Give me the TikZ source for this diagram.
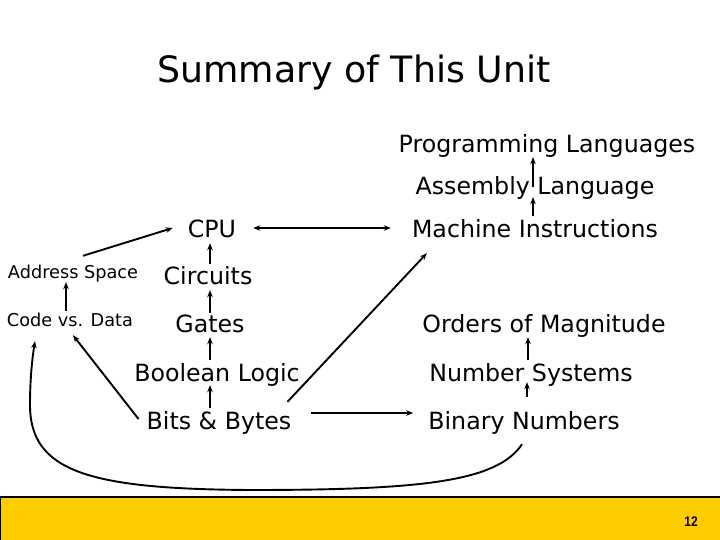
\documentclass[tikz,border=0pt]{standalone}
\usepackage{fontspec}
\setmainfont{DejaVu Sans}
\newfontfamily\numfont{Liberation Sans}
\usetikzlibrary{calc,arrows.meta}
\definecolor{footyellow}{HTML}{FFCC00}
\begin{document}
\begin{tikzpicture}[x=1pt,y=-1pt,
  lbl/.style={anchor=base,inner sep=2pt,text height=17pt,text depth=5pt,font=\fontsize{23.7}{26}\selectfont},
  smalllbl/.style={anchor=base,inner sep=2pt,text height=13pt,text depth=4pt,font=\fontsize{17.7}{20}\selectfont},
  arr/.style={-{Stealth[length=7pt,width=5.5pt]},line width=1.9pt},
  arrtwo/.style={{Stealth[length=7pt,width=5.5pt]}-{Stealth[length=7pt,width=5.5pt]},line width=1.9pt}]
\useasboundingbox (0,0) rectangle (720,540);
\fill[white] (0,0) rectangle (720,540);
% footer
\fill[footyellow] (0,497) rectangle (720,540);
\draw[line width=1.2pt] (0,540) -- (0,497) -- (720,497);
\node[font=\numfont\bfseries\fontsize{14}{16}\selectfont,xscale=0.85] (pg) at (691,522) {12};
% title
\node[anchor=base,font=\fontsize{36.3}{40}\selectfont] (title) at (354,83) {Summary of This Unit};
% nodes
\node[lbl] (PL) at (547,153) {Programming Languages};
\node[lbl] (AL) at (535,195) {Assembly Language};
\node[lbl] (MI) at (535,237) {Machine Instructions};
\node[lbl] (CPU) at (212,237) {CPU};
\node[smalllbl] (AS) at (73,278) {Address Space};
\node[lbl] (CI) at (208,284) {Circuits};
\node[smalllbl] (CD) at (70,326) {Code vs. Data};
\node[lbl] (GA) at (210,332) {Gates};
\node[lbl] (OM) at (544,332) {Orders of Magnitude};
\node[lbl] (BL) at (217,381) {Boolean Logic};
\node[lbl] (NS) at (531,381) {Number Systems};
\node[lbl] (BB) at (219,429) {Bits \& Bytes};
\node[lbl] (BN) at (524,429) {Binary Numbers};
% connectors
\draw[arr] ($(AL.center)+(-2,-2)$) -- ($(AL.center |- PL.south)+(-2,-3)$);
\draw[arr] ($(MI.north)+(-2,-2)$) -- ($(MI.north |- AL.south)+(-2,-5)$);
\draw[arrtwo] ($(CPU.east)+(15,-3)$) -- ($(MI.west)+(-19,-3)$);
\draw[arr] ($(AS.north)+(10,-7)$) -- ($(CPU.west)+(-13,-3)$);
\draw[arr] ($(CD.north)+(-4,0)$) -- ($(CD.north |- AS.south)+(-4,-2)$);
\draw[arr] ($(CI.north)+(2,-1)$) -- ($(CI.north |- CPU.south)+(2,-1)$);
\draw[arr] (GA.north) -- ($(GA.north |- CI.south)+(0,-1)$);
\draw[arr] ($(BL.north)+(-7,-2)$) -- ($(BL.north |- GA.south)+(-7,-2)$);
\draw[arr] ($(BB.north)+(-9,-2)$) -- ($(BB.north |- BL.south)+(-9,-3)$);
\draw[arr] ($(BB.west)+(-6,-4)$) -- ($(CD.south)+(3,3)$);
\draw[arr] ($(BB.north east)+(-6,-8)$) -- ($(MI.south west)+(17,9)$);
\draw[arr] ($(BB.east)+(18,-10)$) -- ($(BN.west)+(-13,-10)$);
\draw[arr] ($(BN.north)+(3,-13)$) -- ($(BN.north |- NS.south)+(3,-6)$);
\draw[arr] ($(NS.north)+(-3,-2)$) -- ($(NS.north |- OM.south)+(-3,-2)$);
\draw[arr] ($(BN.south)+(-2,8)$) .. controls (497,482) and (420,490) .. (250,490)
  .. controls (90,489) and (30,472) .. (30,405)
  .. controls (30,380) and (32,360) .. ($(CD.south)+(-35,9)$);
\end{tikzpicture}
\end{document}
